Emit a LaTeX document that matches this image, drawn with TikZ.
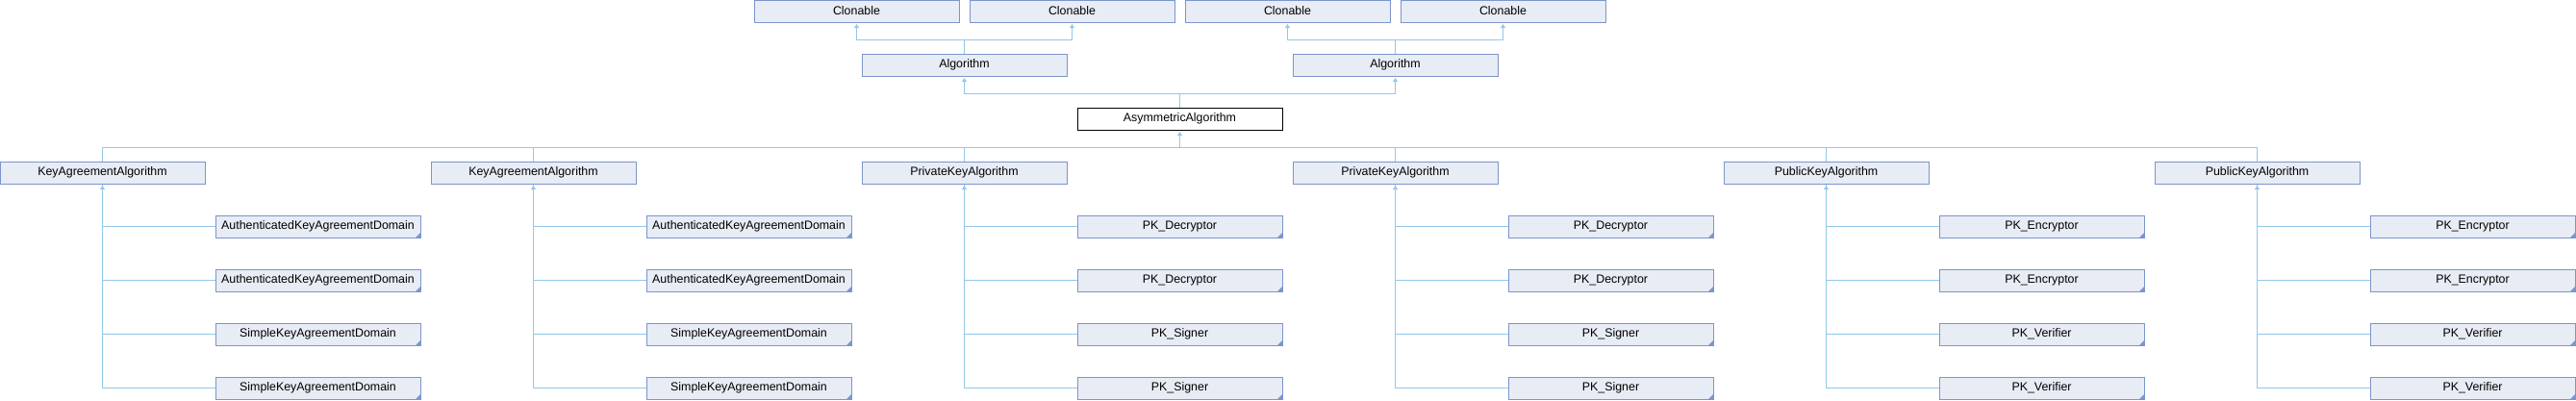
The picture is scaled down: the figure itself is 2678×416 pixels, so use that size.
\documentclass[tikz,border=0pt]{standalone}
\usepackage{fontspec}
\setmainfont{Liberation Sans}
\usetikzlibrary{arrows.meta}
\definecolor{boxfill}{HTML}{E8ECF5}
\definecolor{boxdraw}{HTML}{7C95CB}
\definecolor{edgecol}{HTML}{93C8E8}
\begin{document}
\begin{tikzpicture}[x=1pt,y=-1pt,
 cls/.style={draw=boxdraw,fill=boxfill,line width=1pt,minimum width=213pt,minimum height=23pt,inner sep=0pt,font=\fontsize{12.4}{14}\selectfont},
 sub/.style={cls,path picture={\fill[boxdraw] (path picture bounding box.south east) -- ++(-5pt,0pt) -- ++(5pt,5pt) -- cycle;}},
 cur/.style={cls,draw=black,fill=white},
 edge/.style={draw=edgecol,line width=1pt},
 inh/.style={edge,{Triangle[width=5pt,length=4pt]}-,shorten <=1.5pt}]
\useasboundingbox (0,0) rectangle (2678,416);
% top
\node[cls] (cl1) at (890.5,11.5) {Clonable};
\node[cls] (cl2) at (1114.5,11.5) {Clonable};
\node[cls] (cl3) at (1338.5,11.5) {Clonable};
\node[cls] (cl4) at (1562.5,11.5) {Clonable};
\node[cls] (alg1) at (1002.5,67.5) {Algorithm};
\node[cls] (alg2) at (1450.5,67.5) {Algorithm};
\node[cur] (asym) at (1226.5,123.5) {AsymmetricAlgorithm};
% row 3
\foreach \i/\t in {0/KeyAgreementAlgorithm,2/KeyAgreementAlgorithm,4/PrivateKeyAlgorithm,6/PrivateKeyAlgorithm,8/PublicKeyAlgorithm,10/PublicKeyAlgorithm}
  \node[cls] (r\i) at (224*\i+106.5,179.5) {\t};
% children
\foreach \c/\la/\lb in {1/AuthenticatedKeyAgreementDomain/SimpleKeyAgreementDomain,3/AuthenticatedKeyAgreementDomain/SimpleKeyAgreementDomain,5/PK\_Decryptor/PK\_Signer,7/PK\_Decryptor/PK\_Signer,9/PK\_Encryptor/PK\_Verifier,11/PK\_Encryptor/PK\_Verifier}{
  \node[sub] (s\c-4) at (224*\c+106.5,235.5) {\la};
  \node[sub] (s\c-5) at (224*\c+106.5,291.5) {\la};
  \node[sub] (s\c-6) at (224*\c+106.5,347.5) {\lb};
  \node[sub] (s\c-7) at (224*\c+106.5,403.5) {\lb};
}
% edges top
\draw[inh] (cl1.south) -- ++(0,17.5) -| (alg1.north);
\draw[inh] (cl2.south) -- ++(0,17.5) -| (alg1.north);
\draw[inh] (cl3.south) -- ++(0,17.5) -| (alg2.north);
\draw[inh] (cl4.south) -- ++(0,17.5) -| (alg2.north);
\draw[inh] (alg1.south) -- ++(0,17.5) -| (asym.north);
\draw[inh] (alg2.south) -- ++(0,17.5) -| (asym.north);
\draw[inh] (asym.south) -- ++(0,17.5) coordinate (hb);
\foreach \i in {0,2,4,6,8,10}
  \draw[edge] (r\i.north) |- (hb);
% children edges
\foreach \p/\c in {0/1,2/3,4/5,6/7,8/9,10/11}{
  \draw[inh] (r\p.south) |- (s\c-4.west);
  \foreach \r in {5,6,7}
    \draw[edge] (r\p.south) |- (s\c-\r.west);
}
\end{tikzpicture}
\end{document}
